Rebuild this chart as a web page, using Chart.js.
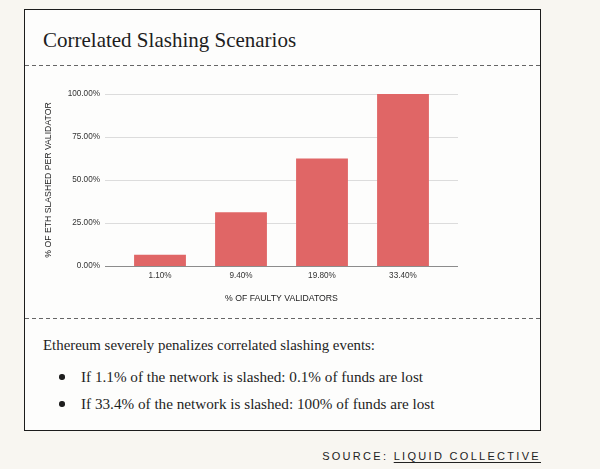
<!DOCTYPE html>
<html>
<head>
<meta charset="utf-8">
<script src="https://cdn.jsdelivr.net/npm/chart.js@4"></script>
<style>
  html, body { margin: 0; padding: 0; }
  body { width: 600px; height: 469px; background: #f8f6f1; position: relative; overflow: hidden; }
  .box { position: absolute; left: 24px; top: 9px; width: 515px; height: 420px; border: 1.5px solid #1c1c1c; background: #fdfdfc; }
  .dash { position: absolute; left: 25px; width: 515px; height: 1px;
    background-image: linear-gradient(to right, #666 4px, transparent 4px); background-size: 7px 1px; }
  .serif { position: absolute; font-family: "Liberation Serif", "Times New Roman", serif; color: #1e1e1e; white-space: nowrap; }
  .title { left: 43px; top: 28px; font-size: 21px; line-height: 24px; }
  .lead { left: 43px; top: 336px; font-size: 14.9px; line-height: 18px; }
  .item { left: 81px; font-size: 15.2px; line-height: 18px; }
  .bullet { position: absolute; left: 59px; width: 5.5px; height: 5.5px; border-radius: 50%; background: #1e1e1e; }
  .source { position: absolute; right: 59px; top: 449px; font-family: "Liberation Sans", Arial, sans-serif;
    font-size: 11px; line-height: 14px; letter-spacing: 2.3px; color: #222; white-space: nowrap; }
  .source u { text-underline-offset: 2px; }
  #chart { position: absolute; left: 0; top: 0; }
</style>
</head>
<body>
<div class="box"></div>
<div class="dash" style="top:65px"></div>
<div class="dash" style="top:318px"></div>
<div class="serif title">Correlated Slashing Scenarios</div>
<div class="serif lead">Ethereum severely penalizes correlated slashing events:</div>
<div class="bullet" style="top:374px"></div>
<div class="serif item" style="top:368px">If 1.1% of the network is slashed: 0.1% of funds are lost</div>
<div class="bullet" style="top:401px"></div>
<div class="serif item" style="top:395px">If 33.4% of the network is slashed: 100% of funds are lost</div>
<div class="source">SOURCE: <u>LIQUID COLLECTIVE</u></div>
<canvas id="chart" width="600" height="469"></canvas>
<script>
const categories = ["1.10%", "9.40%", "19.80%", "33.40%"];
const slashedPct = [6.5, 31.3, 62.5, 100];
const yTicks = [0, 25, 50, 75, 100];

// horizontal grid lines run a bit past the first/last category
const extendedGrid = {
  id: "extendedGrid",
  beforeDatasetsDraw(chart) {
    const { ctx, chartArea, scales } = chart;
    const left = chartArea.left - 14.5;
    const right = chartArea.right + 14.5;
    ctx.save();
    yTicks.forEach((v) => {
      const y = Math.round(scales.y.getPixelForValue(v)) + 0.5;
      ctx.strokeStyle = v === 0 ? "#8c8c8c" : "#dcdcdc";
      ctx.lineWidth = 1;
      ctx.beginPath();
      ctx.moveTo(left, y);
      ctx.lineTo(right, y);
      ctx.stroke();
    });
    ctx.restore();
  },
};

const tickFont = { family: "'Liberation Sans', Arial, sans-serif", size: 8.2 };
const titleFont = { family: "'Liberation Sans', Arial, sans-serif", size: 8.7 };

new Chart(document.getElementById("chart"), {
  type: "bar",
  data: {
    labels: categories,
    datasets: [
      {
        data: slashedPct,
        backgroundColor: "#e06666",
        borderWidth: 0,
        barPercentage: 0.8,
        categoryPercentage: 0.8,
      },
    ],
  },
  options: {
    responsive: false,
    animation: false,
    events: [],
    layout: { padding: { left: 43, right: 156.5, top: 94, bottom: 165.2 } },
    plugins: { legend: { display: false }, tooltip: { enabled: false } },
    scales: {
      x: {
        grid: { display: false, drawTicks: false },
        border: { display: false },
        ticks: { color: "#333", font: tickFont, padding: 5 },
        title: { display: true, text: "% OF FAULTY VALIDATORS", color: "#222", font: titleFont, padding: 0 },
        afterFit: (scale) => { scale.height = 37.8; },
      },
      y: {
        min: 0,
        max: 100,
        grid: { display: false, drawTicks: false },
        border: { display: false },
        ticks: {
          stepSize: 25,
          color: "#333",
          font: tickFont,
          padding: 19.5,
          callback: (v) => v.toFixed(2) + "%",
        },
        title: { display: true, text: "% OF ETH SLASHED PER VALIDATOR", color: "#222", font: titleFont, padding: 0 },
        afterFit: (scale) => { scale.width = 76.5; },
      },
    },
  },
  plugins: [extendedGrid],
});
</script>
</body>
</html>
